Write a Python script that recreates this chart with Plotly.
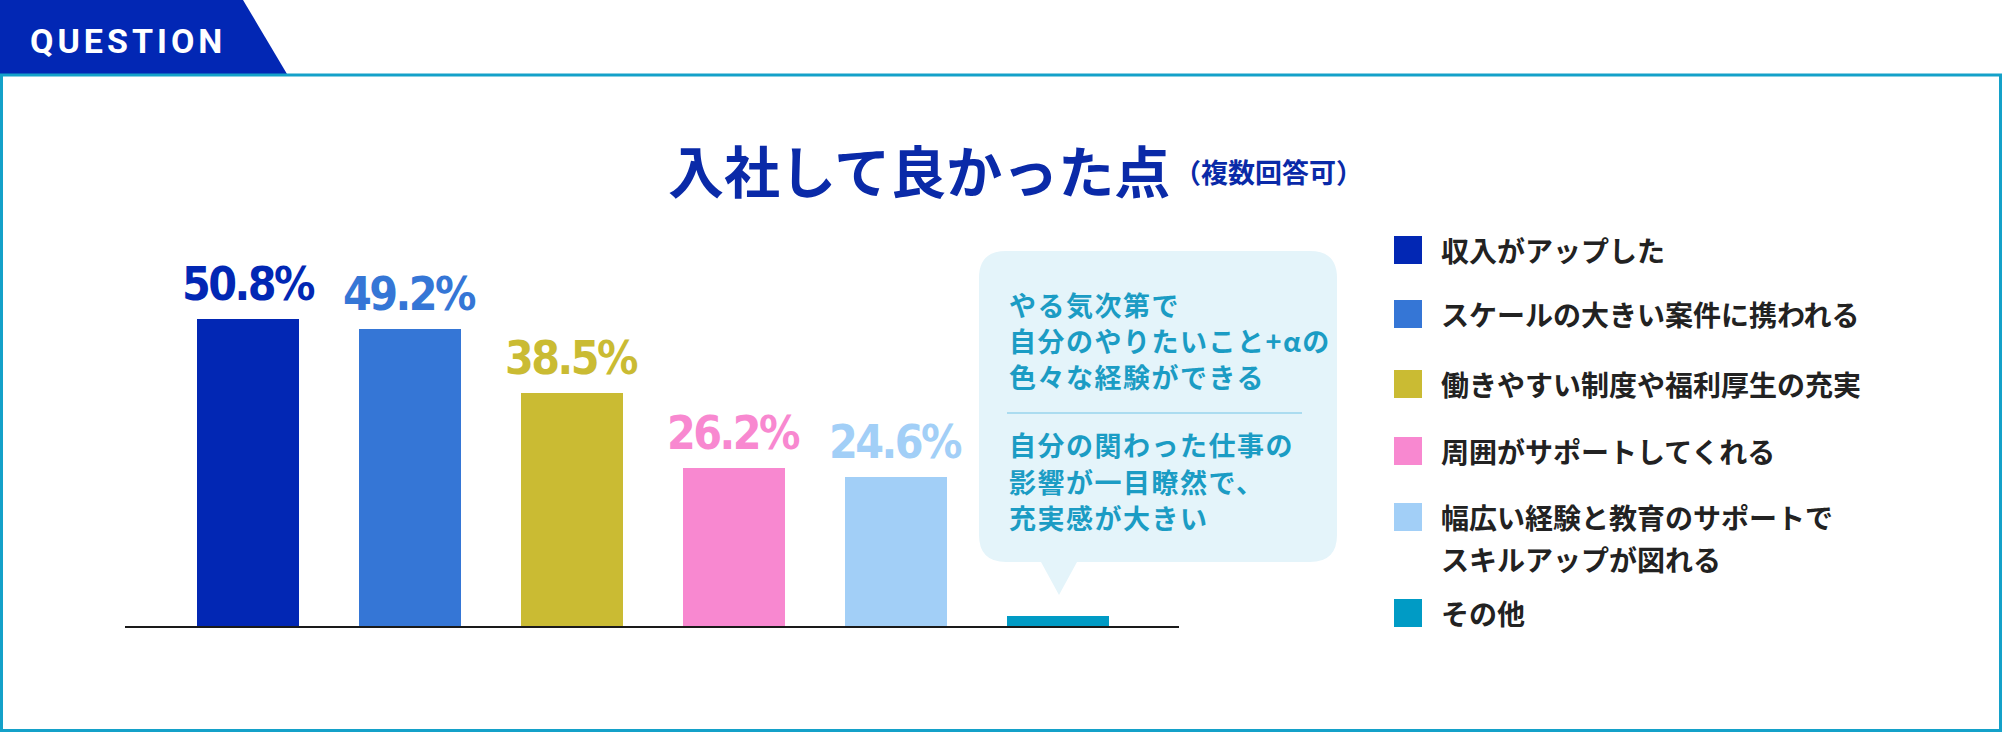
import plotly.graph_objects as go

W, H = 2002, 732

# data
categories = ["収入がアップした", "スケールの大きい案件に携われる", "働きやすい制度や福利厚生の充実",
              "周囲がサポートしてくれる", "幅広い経験と教育のサポートで<br>スキルアップが図れる", "その他"]
values = [50.8, 49.2, 38.5, 26.2, 24.6, 1.6]
labelled = [True, True, True, True, True, False]
colors = ["#0227b4", "#3576d6", "#cabb33", "#f888d0", "#a2cff7", "#009bc5"]

bubble_lines_1 = ["やる気次第で", "自分のやりたいこと+αの", "色々な経験ができる"]
bubble_lines_2 = ["自分の関わった仕事の", "影響が一目瞭然で、", "充実感が大きい"]

JP = "Noto Sans CJK JP, Noto Sans, sans-serif"
NARROW = "DejaVu Sans, sans-serif"


def px(x):
    return x / W


def py(y):
    return 1 - y / H


def path(points):
    return "M " + " L ".join(f"{px(x)},{py(y)}" for x, y in points) + " Z"


fig = go.Figure()
fig.add_trace(go.Bar(
    x=list(range(len(categories))), y=values, width=0.63,
    marker=dict(color=colors, line=dict(width=0)),
    hovertext=categories, hoverinfo="text+y", showlegend=False,
))

# percentage labels above bars
annotations = []
for i, (v, c, show) in enumerate(zip(values, colors, labelled)):
    if show:
        annotations.append(dict(
            x=i, y=v, xref="x", yref="y",
            text=f"<span style='font-stretch:condensed;letter-spacing:-2.5px'>{v}%</span>",
            showarrow=False, yanchor="bottom", yshift=6,
            font=dict(family=NARROW, size=46, color=c, weight="bold"),
        ))

shapes = []
# question tab and frame
shapes.append(dict(type="path", xref="paper", yref="paper",
                   path=path([(0, 0), (243, 0), (287, 74), (0, 74)]),
                   fillcolor="#0227b4", line=dict(width=0)))
shapes.append(dict(type="rect", xref="paper", yref="paper",
                   x0=px(1.5), x1=px(2000.5), y0=py(75), y1=py(730.5),
                   line=dict(color="#14a1c9", width=3), fillcolor="rgba(0,0,0,0)"))
annotations.append(dict(
    x=px(28), y=py(41), xref="paper", yref="paper", xanchor="left", yanchor="middle",
    text="<span style='letter-spacing:4px'>QUESTION</span>", showarrow=False,
    font=dict(family="Roboto, sans-serif", size=34, color="white", weight="bold"),
))

# title
annotations.append(dict(
    x=px(1172), y=py(169), xref="paper", yref="paper", xanchor="right", yanchor="middle",
    text="入社して良かった点", showarrow=False,
    font=dict(family=JP, size=56, color="#0a2aa8", weight="bold"),
))
annotations.append(dict(
    x=px(1172), y=py(171), xref="paper", yref="paper", xanchor="left", yanchor="middle",
    text="（複数回答可）", showarrow=False,
    font=dict(family=JP, size=27, color="#0a2aa8", weight="bold"),
))

# speech bubble
bx0, bx1, by0, by1, r = 979, 1337, 251, 562, 27
bubble = (f"M {px(bx0 + r)},{py(by0)} L {px(bx1 - r)},{py(by0)} "
          f"Q {px(bx1)},{py(by0)} {px(bx1)},{py(by0 + r)} "
          f"L {px(bx1)},{py(by1 - r)} Q {px(bx1)},{py(by1)} {px(bx1 - r)},{py(by1)} "
          f"L {px(1077)},{py(by1)} L {px(1059)},{py(595)} L {px(1041)},{py(by1)} "
          f"L {px(bx0 + r)},{py(by1)} Q {px(bx0)},{py(by1)} {px(bx0)},{py(by1 - r)} "
          f"L {px(bx0)},{py(by0 + r)} Q {px(bx0)},{py(by0)} {px(bx0 + r)},{py(by0)} Z")
shapes.append(dict(type="path", xref="paper", yref="paper", path=bubble,
                   fillcolor="#e4f4fa", line=dict(width=0), layer="below"))
shapes.append(dict(type="line", xref="paper", yref="paper",
                   x0=px(1007), x1=px(1302), y0=py(413), y1=py(413),
                   line=dict(color="#98d5ec", width=1.5)))
for lines, ys in ((bubble_lines_1, [304, 340, 376]), (bubble_lines_2, [445, 481, 517])):
    for t, y in zip(lines, ys):
        annotations.append(dict(
            x=px(1007), y=py(y), xref="paper", yref="paper", xanchor="left", yanchor="middle",
            text=f"<span style='letter-spacing:1.5px'>{t}</span>", showarrow=False,
            font=dict(family=JP, size=27, color="#1b9cc4", weight="bold"),
        ))

# custom legend
legend_y = [250, 314, 384, 451, 517, 613]
for cat, c, y in zip(categories, colors, legend_y):
    shapes.append(dict(type="rect", xref="paper", yref="paper",
                       x0=px(1394), x1=px(1422), y0=py(y - 14), y1=py(y + 14),
                       fillcolor=c, line=dict(width=0)))
    for k, part in enumerate(cat.split("<br>")):
        annotations.append(dict(
            x=px(1439), y=py(y + 42 * k), xref="paper", yref="paper",
            xanchor="left", yanchor="middle", text=part, showarrow=False,
            font=dict(family=JP, size=28, color="#222222", weight="bold"),
        ))

base_y = 626
fig.update_layout(
    width=W, height=H, margin=dict(l=0, r=0, t=0, b=0),
    paper_bgcolor="white", plot_bgcolor="rgba(0,0,0,0)",
    xaxis=dict(domain=[px(125), px(1179)], range=[-0.76, 5.75], showticklabels=False,
               showgrid=False, zeroline=False, showline=True, linecolor="#1a1a1a",
               linewidth=2, ticks="", fixedrange=True),
    yaxis=dict(domain=[1 - base_y / H, 1], range=[0, base_y / 6.04], visible=False,
               showgrid=False, zeroline=False, fixedrange=True),
    shapes=shapes, annotations=annotations, bargap=0, showlegend=False,
)

fig.write_html("out.html", config={"displayModeBar": False},
               post_script="document.body.style.margin='0';")
